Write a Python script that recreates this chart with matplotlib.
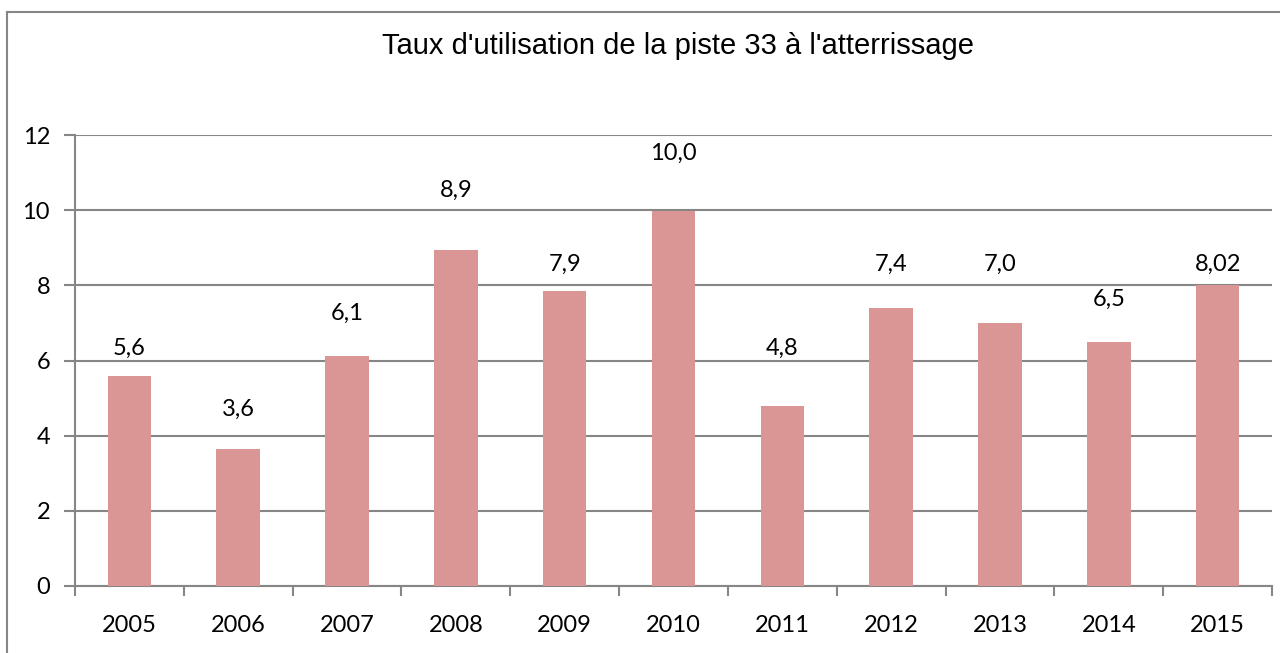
import matplotlib.pyplot as plt
from matplotlib.lines import Line2D
import numpy as np

annees = ["2005", "2006", "2007", "2008", "2009", "2010",
          "2011", "2012", "2013", "2014", "2015"]
taux = [5.6, 3.65, 6.13, 8.93, 7.85, 9.97, 4.8, 7.4, 7.0, 6.5, 8.02]
etiquettes = ["5,6", "3,6", "6,1", "8,9", "7,9", "10,0",
              "4,8", "7,4", "7,0", "6,5", "8,02"]

# hauteur des etiquettes (placees a la main dans l'original)
pos_etiq = [6.33, 4.71, 7.26, 10.54, 8.57, 11.52, 6.33, 8.57, 8.57, 7.64, 8.57]

gris = "#868686"
fig = plt.figure(figsize=(12.8, 6.53), dpi=100)
ax = fig.add_axes([75 / 1280, 67 / 653, 1197 / 1280, 451 / 653])

x = np.arange(len(annees))
ax.bar(x, taux, width=0.40, color="#D99694", zorder=3)
for xi, yi, t in zip(x, pos_etiq, etiquettes):
    ax.text(xi, yi, t, ha="center", va="center", fontsize=17,
            family="Lato", zorder=4)

ax.set_xlim(-0.5, len(annees) - 0.5)
ax.set_ylim(0, 12)
ax.set_yticks(range(0, 13, 2))
ax.set_xticks(x)
ax.set_xticklabels(annees)
ax.set_xticks(np.arange(-0.5, len(annees), 1), minor=True)
ax.tick_params(axis="x", which="major", length=0, pad=21, labelsize=17)
ax.tick_params(axis="x", which="minor", length=7, width=1.5, color=gris)
ax.tick_params(axis="y", length=8, width=1.5, color=gris, pad=10, labelsize=17)
for lab in ax.get_xticklabels() + ax.get_yticklabels():
    lab.set_family("Lato")

ax.grid(axis="y", color=gris, linewidth=1.5, zorder=1)
ax.spines[["top", "right"]].set_visible(False)
ax.spines["left"].set_color(gris)
ax.spines["bottom"].set_color(gris)
ax.spines["left"].set_linewidth(1.5)
ax.spines["bottom"].set_linewidth(1.5)

fig.text(0.53, 1 - 46 / 653, "Taux d'utilisation de la piste 33 à l'atterrissage",
         ha="center", va="center", fontsize=21, family="Liberation Sans")

# cadre du graphique (bords droit et bas hors image)
fig.add_artist(Line2D([7 / 1280, 7 / 1280], [0, 1 - 12 / 653], color=gris, lw=1.5))
fig.add_artist(Line2D([7 / 1280, 1], [1 - 12 / 653, 1 - 12 / 653], color=gris, lw=1.5))

fig.savefig("out.png", dpi=100)
